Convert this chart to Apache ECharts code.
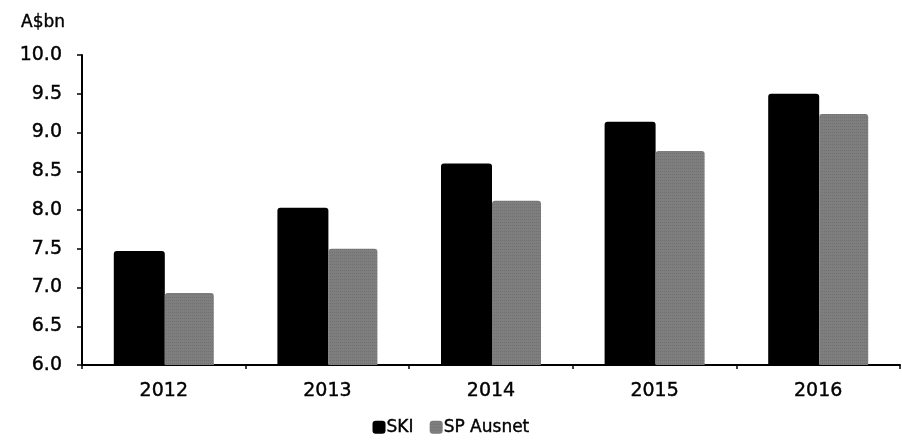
<!DOCTYPE html>
<html><head><meta charset="utf-8">
<script src="https://cdn.jsdelivr.net/npm/echarts@6/dist/echarts.min.js"></script>
<style>html,body{margin:0;padding:0;background:#fff}#c{width:902px;height:444px}</style>
</head><body><div id="c"></div>
<script>
var categories = ['2012','2013','2014','2015','2016'];
var skiValues = [7.47, 8.03, 8.60, 9.14, 9.50];
var spAusnetValues = [6.93, 7.50, 8.12, 8.76, 9.24];
var yTicks = ['6.0','6.5','7.0','7.5','8.0','8.5','9.0','9.5','10.0'];

var font = 'DejaVu Sans, Verdana, sans-serif';
var chart = echarts.init(document.getElementById('c'));
chart.setOption({
  animation: false,
  backgroundColor: '#fff',
  textStyle: {fontFamily: font},
  grid: {left: 82, right: 2, top: 55, bottom: 79, containLabel: false},
  title: {text: 'A$bn', left: 16, top: 9, textStyle: {fontFamily: font, fontSize: 17, fontWeight: 'normal', color: '#000', textBorderColor: '#000', textBorderWidth: 0.4}},
  legend: {
    bottom: 3, left: 'center', itemWidth: 13, itemHeight: 13, itemGap: 16,
    textStyle: {fontFamily: font, fontSize: 17, color: '#000', padding: [0,0,0,-4], textBorderColor: '#000', textBorderWidth: 0.4},
    data: ['SKI', 'SP Ausnet']
  },
  xAxis: {
    type: 'category', data: categories,
    axisLine: {lineStyle: {color: '#000', width: 2}},
    axisTick: {show: true, length: 4, lineStyle: {color: '#000', width: 1.5}},
    axisLabel: {color: '#000', fontSize: 19, fontFamily: font, margin: 17, textBorderColor: '#000', textBorderWidth: 0.4}
  },
  yAxis: {
    type: 'value', min: 6, max: 10, interval: 0.5,
    axisLine: {show: true, lineStyle: {color: '#000', width: 2}},
    axisTick: {show: true, length: 5, lineStyle: {color: '#000', width: 1.5}},
    splitLine: {show: false},
    axisLabel: {color: '#000', fontSize: 19, fontFamily: font, margin: 20, textBorderColor: '#000', textBorderWidth: 0.4,
      formatter: function(v){ var i = Math.round((v-6)/0.5); return yTicks[i] !== undefined ? yTicks[i] : v.toFixed(1); }}
  },
  series: [
    {name: 'SKI', type: 'bar', data: skiValues, barWidth: 51, barGap: '0%',
     itemStyle: {color: '#000', borderRadius: [3,3,0,0]}},
    {name: 'SP Ausnet', type: 'bar', data: spAusnetValues, barWidth: 49,
     itemStyle: {color: '#7e7e7e', borderRadius: [3,3,0,0],
       decal: {symbol: 'rect', symbolSize: 0.5, color: 'rgba(30,30,30,0.5)', dashArrayX: [1,1], dashArrayY: [1,2], rotation: 0}}}
  ]
});
</script></body></html>
